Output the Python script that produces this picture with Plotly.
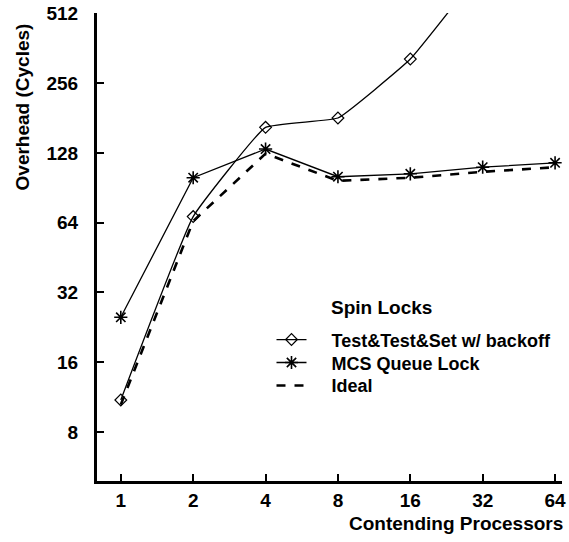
import plotly.graph_objects as go

procs = [1, 2, 4, 8, 16, 32]
tts_backoff = [11.0, 68, 165, 181, 325, 800]
procs_mcs = [1, 2, 4, 8, 16, 32, 64]
mcs_queue = [25, 100, 133, 101, 104, 111, 116]
ideal = [10.5, 65, 127, 97, 100, 106, 111]

x_ticks = [1, 2, 4, 8, 16, 32, 64]
y_ticks = [8, 16, 32, 64, 128, 256, 512]

FONT = "Liberation Sans, Arial, Helvetica, sans-serif"
PAD = "\u00a0" * 4

fig = go.Figure()
fig.add_trace(go.Scatter(
    x=procs, y=tts_backoff, mode="lines+markers", name=PAD + "Test&Test&Set w/ backoff",
    line=dict(color="black", width=1.3, shape="spline", smoothing=0.3),
    marker=dict(symbol="diamond-open", size=9, color="black", line=dict(width=1.2)),
    legend="legend",
))
fig.add_trace(go.Scatter(
    x=procs_mcs, y=mcs_queue, mode="lines+markers", name=PAD + "MCS Queue Lock",
    line=dict(color="black", width=1.3),
    marker=dict(symbol="asterisk-open", size=11, color="black", line=dict(width=1.6, color="black")),
    legend="legend2",
))
fig.add_trace(go.Scatter(
    x=procs_mcs, y=ideal, mode="lines", name=PAD + "Ideal",
    line=dict(color="black", width=2.6, dash="dash"),
    legend="legend3",
))

fig.update_xaxes(
    type="log", range=[-0.099, 1.835],
    tickvals=x_ticks, ticktext=[str(v) for v in x_ticks],
    ticks="inside", ticklen=7, tickwidth=1.5, tickcolor="black",
    showline=True, linewidth=3, linecolor="black",
    showgrid=False, zeroline=False,
    tickfont=dict(family=FONT, size=19, color="black", weight="bold"),
    ticklabelstandoff=0, ticklabeloverflow="allow",
)
fig.update_yaxes(
    type="log", range=[0.692, 2.7105],
    tickvals=y_ticks, ticktext=[str(v) for v in y_ticks],
    ticks="inside", ticklen=7, tickwidth=1.5, tickcolor="black",
    showline=True, linewidth=3, linecolor="black",
    showgrid=False, zeroline=False,
    tickfont=dict(family=FONT, size=19, color="black", weight="bold"),
    ticklabelstandoff=12, ticklabeloverflow="allow",
)

fig.add_annotation(
    text="Overhead (Cycles)", textangle=-90, xref="paper", yref="paper",
    x=(22 - 97) / 469, y=(481 - 106) / 469, showarrow=False, xanchor="center", yanchor="middle",
    font=dict(family=FONT, size=19, color="black", weight="bold"),
)
fig.add_annotation(
    text="Contending Processors", xref="paper", yref="paper",
    x=(569 - 97) / 469, y=(481 - 524) / 469, showarrow=False, xanchor="right", yanchor="middle",
    font=dict(family=FONT, size=19, color="black", weight="bold"),
)
fig.add_annotation(
    text="Spin Locks", xref="paper", yref="paper",
    x=(331 - 97) / 469, y=(481 - 307) / 469, showarrow=False, xanchor="left", yanchor="middle",
    font=dict(family=FONT, size=19, color="black", weight="bold"),
)

legend_style = dict(
    xanchor="left", yanchor="top",
    font=dict(family=FONT, size=18, color="black", weight="bold"),
    bgcolor="rgba(0,0,0,0)", itemwidth=30,
)
lx = (273 - 97) / 469
fig.update_layout(
    width=569, height=542,
    margin=dict(l=97, r=3, t=12, b=61),
    paper_bgcolor="white", plot_bgcolor="white",
    showlegend=True,
    legend=dict(x=lx, y=(481 - 321) / 469, **legend_style),
    legend2=dict(x=lx, y=(481 - 344) / 469, **legend_style),
    legend3=dict(x=lx, y=(481 - 367) / 469, **legend_style),
)

fig.write_html("out.html", post_script="document.body.style.margin='0';",
               config={"displayModeBar": False})
